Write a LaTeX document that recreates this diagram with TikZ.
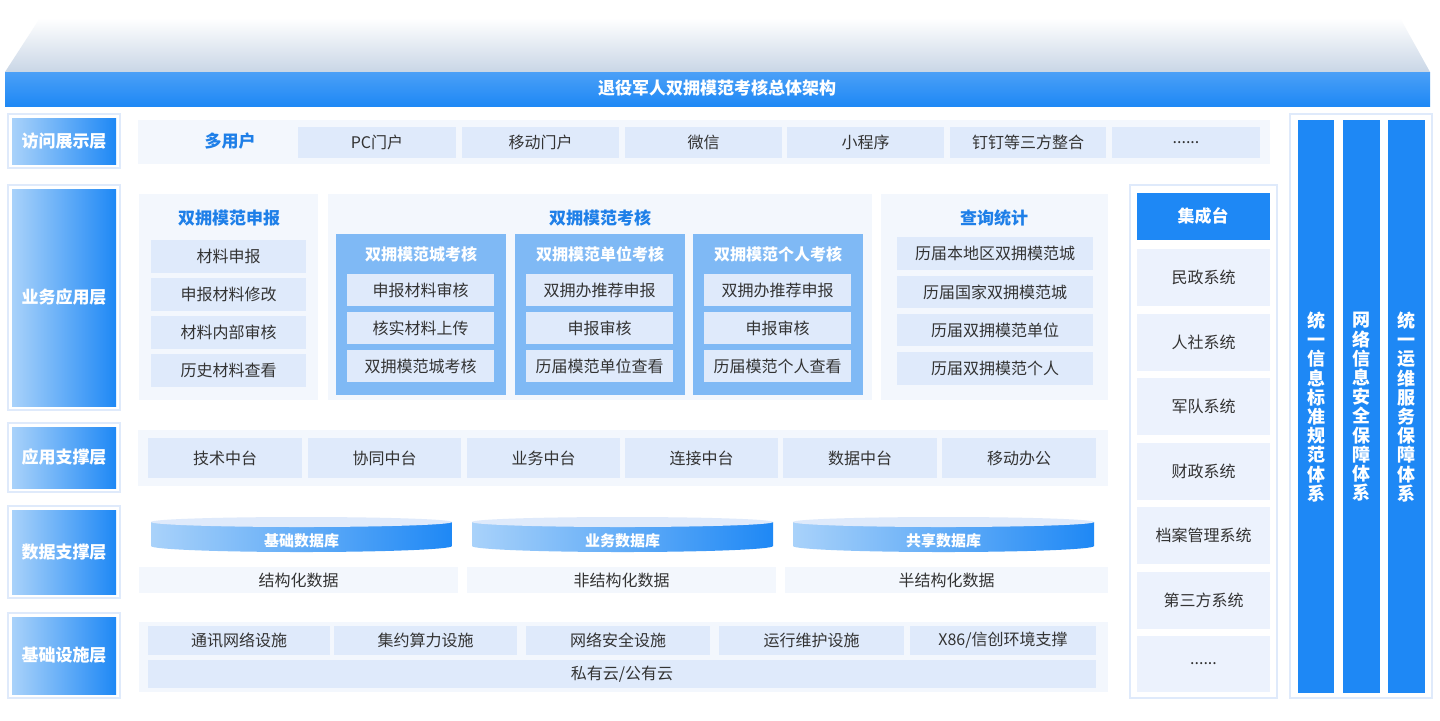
\documentclass[tikz,border=0pt]{standalone}
\usepackage{fontspec}
\setmainfont{Noto Sans CJK SC}
\definecolor{mb}{HTML}{1E88F5}
\definecolor{lb}{HTML}{A9D2FA}
\definecolor{bg}{HTML}{F3F7FD}
\definecolor{bx}{HTML}{DFEAFB}
\definecolor{cb}{HTML}{7FB9F5}
\definecolor{tx}{HTML}{333333}
\definecolor{tb}{HTML}{1E7FE8}
\definecolor{rf}{HTML}{C9D6E6}
\newcommand\cbox[6][]{\path[#1] (#2,#3) rectangle (#4,#5); \node[tx,font=\fontsize{8}{9}\selectfont] at ({(#2+#4)/2},{(#3+#5)/2}) {#6};}
\newcommand\lay[3]{\path[draw=bx,fill=white,line width=1pt] (8,#1) rectangle (120,#2);
 \path[left color=lb,right color=mb] (12,#1+4) rectangle (116,#2-4);
 \node[white,font=\bfseries\fontsize{8.5}{9}\selectfont] at (64,{(#1+#2)/2}) {#3};}
\newcommand\cyl[3]{\path[left color=lb,right color=mb] (#1,522) -- (#1,546) arc[start angle=180,end angle=0,x radius={(#2-#1)/2},y radius=6] -- (#2,522) -- cycle;
 \path[fill=bx] ({(#1+#2)/2},522) ellipse [x radius={(#2-#1)/2},y radius=5];
 \node[white,font=\bfseries\fontsize{7.5}{9}\selectfont] at ({(#1+#2)/2},541) {#3};}
\begin{document}
\begin{tikzpicture}[x=0.5pt,y=-0.5pt]
\useasboundingbox[fill=white] (0,0) rectangle (1440,720);
% roof
\path[top color=white,bottom color=rf] (40,18) -- (1400,18) -- (1430,72) -- (5,72) -- cycle;
\path[top color=mb!80,bottom color=mb] (5,72) rectangle (1430,106);
\node[white,font=\bfseries\fontsize{8.5}{9}\selectfont] at (717,88) {退役军人双拥模范考核总体架构};
% layer labels
\lay{114}{168}{访问展示层}
\lay{185}{410}{业务应用层}
\lay{423}{492}{应用支撑层}
\lay{506}{598}{数据支撑层}
\lay{613}{698}{基础设施层}
% row 1
\path[fill=bg] (138,120) rectangle (1270,164);
\node[tb,font=\bfseries\fontsize{8.5}{9}\selectfont] at (230,141) {多用户};
\cbox[fill=bx]{298}{127}{456}{158}{PC门户}
\cbox[fill=bx]{462}{127}{619}{158}{移动门户}
\cbox[fill=bx]{625}{127}{782}{158}{微信}
\cbox[fill=bx]{787}{127}{944}{158}{小程序}
\cbox[fill=bx]{950}{127}{1106}{158}{钉钉等三方整合}
\cbox[fill=bx]{1112}{127}{1260}{158}{......}
% row 2
\path[fill=bg] (139,194) rectangle (318,400);
\node[tb,font=\bfseries\fontsize{8.5}{9}\selectfont] at (229,218) {双拥模范申报};
\cbox[fill=bx]{151}{240}{306}{273}{材料申报}
\cbox[fill=bx]{151}{278}{306}{311}{申报材料修改}
\cbox[fill=bx]{151}{316}{306}{349}{材料内部审核}
\cbox[fill=bx]{151}{354}{306}{387}{历史材料查看}
\path[fill=bg] (328,194) rectangle (872,400);
\node[tb,font=\bfseries\fontsize{8.5}{9}\selectfont] at (600,218) {双拥模范考核};
\foreach \a/\b/\t in {336/506/双拥模范城考核,515/685/双拥模范单位考核,693/863/双拥模范个人考核}{
 \path[fill=cb] (\a,234) rectangle (\b,395);
 \node[white,font=\bfseries\fontsize{8}{9}\selectfont] at ({(\a+\b)/2},254) {\t};}
\cbox[fill=bx]{347}{274}{494}{306}{申报材料审核}
\cbox[fill=bx]{347}{312}{494}{344}{核实材料上传}
\cbox[fill=bx]{347}{350}{494}{382}{双拥模范城考核}
\cbox[fill=bx]{526}{274}{673}{306}{双拥办推荐申报}
\cbox[fill=bx]{526}{312}{673}{344}{申报审核}
\cbox[fill=bx]{526}{350}{673}{382}{历届模范单位查看}
\cbox[fill=bx]{704}{274}{851}{306}{双拥办推荐申报}
\cbox[fill=bx]{704}{312}{851}{344}{申报审核}
\cbox[fill=bx]{704}{350}{851}{382}{历届模范个人查看}
\path[fill=bg] (881,194) rectangle (1108,400);
\node[tb,font=\bfseries\fontsize{8.5}{9}\selectfont] at (994,218) {查询统计};
\cbox[fill=bx]{897}{237}{1093}{270}{历届本地区双拥模范城}
\cbox[fill=bx]{897}{276}{1093}{308}{历届国家双拥模范城}
\cbox[fill=bx]{897}{314}{1093}{346}{历届双拥模范单位}
\cbox[fill=bx]{897}{352}{1093}{385}{历届双拥模范个人}
% integration
\path[draw=bx,line width=1pt,fill=white] (1130,185) rectangle (1277,698);
\path[fill=mb] (1137,193) rectangle (1270,240);
\node[white,font=\bfseries\fontsize{8.5}{9}\selectfont] at (1203,216) {集成台};
\cbox[fill=bx!60]{1137}{249}{1270}{306}{民政系统}
\cbox[fill=bx!60]{1137}{314}{1270}{371}{人社系统}
\cbox[fill=bx!60]{1137}{378}{1270}{435}{军队系统}
\cbox[fill=bx!60]{1137}{443}{1270}{500}{财政系统}
\cbox[fill=bx!60]{1137}{507}{1270}{564}{档案管理系统}
\cbox[fill=bx!60]{1137}{572}{1270}{629}{第三方系统}
\cbox[fill=bx!60]{1137}{636}{1270}{692}{......}
% right columns
\path[draw=bx,line width=1pt,fill=white] (1290,114) rectangle (1432,698);
\foreach \a/\b/\t in {1298/1334/{统\\一\\信\\息\\标\\准\\规\\范\\体\\系},1343/1380/{网\\络\\信\\息\\安\\全\\保\\障\\体\\系},1388/1425/{统\\一\\运\\维\\服\\务\\保\\障\\体\\系}}{
 \path[fill=mb] (\a,120) rectangle (\b,693);
 \node[white,align=center,font=\bfseries\fontsize{9}{9.6}\selectfont] at ({(\a+\b)/2},407) {\t};}
% row 3
\path[fill=bg] (138,430) rectangle (1108,486);
\cbox[fill=bx]{148}{438}{302}{478}{技术中台}
\cbox[fill=bx]{308}{438}{461}{478}{协同中台}
\cbox[fill=bx]{467}{438}{620}{478}{业务中台}
\cbox[fill=bx]{625}{438}{778}{478}{连接中台}
\cbox[fill=bx]{783}{438}{937}{478}{数据中台}
\cbox[fill=bx]{942}{438}{1096}{478}{移动办公}
% row 4
\cyl{151}{452}{基础数据库}
\cyl{472}{773}{业务数据库}
\cyl{793}{1094}{共享数据库}
\cbox[fill=bg]{139}{567}{458}{593}{结构化数据}
\cbox[fill=bg]{467}{567}{776}{593}{非结构化数据}
\cbox[fill=bg]{785}{567}{1108}{593}{半结构化数据}
% row 5
\path[fill=bg] (139,622) rectangle (1108,692);
\cbox[fill=bx]{148}{626}{330}{655}{通讯网络设施}
\cbox[fill=bx]{334}{626}{517}{655}{集约算力设施}
\cbox[fill=bx]{526}{626}{710}{655}{网络安全设施}
\cbox[fill=bx]{719}{626}{904}{655}{运行维护设施}
\cbox[fill=bx]{910}{626}{1096}{655}{X86/信创环境支撑}
\cbox[fill=bx]{148}{660}{1096}{688}{私有云/公有云}
\end{tikzpicture}
\end{document}
